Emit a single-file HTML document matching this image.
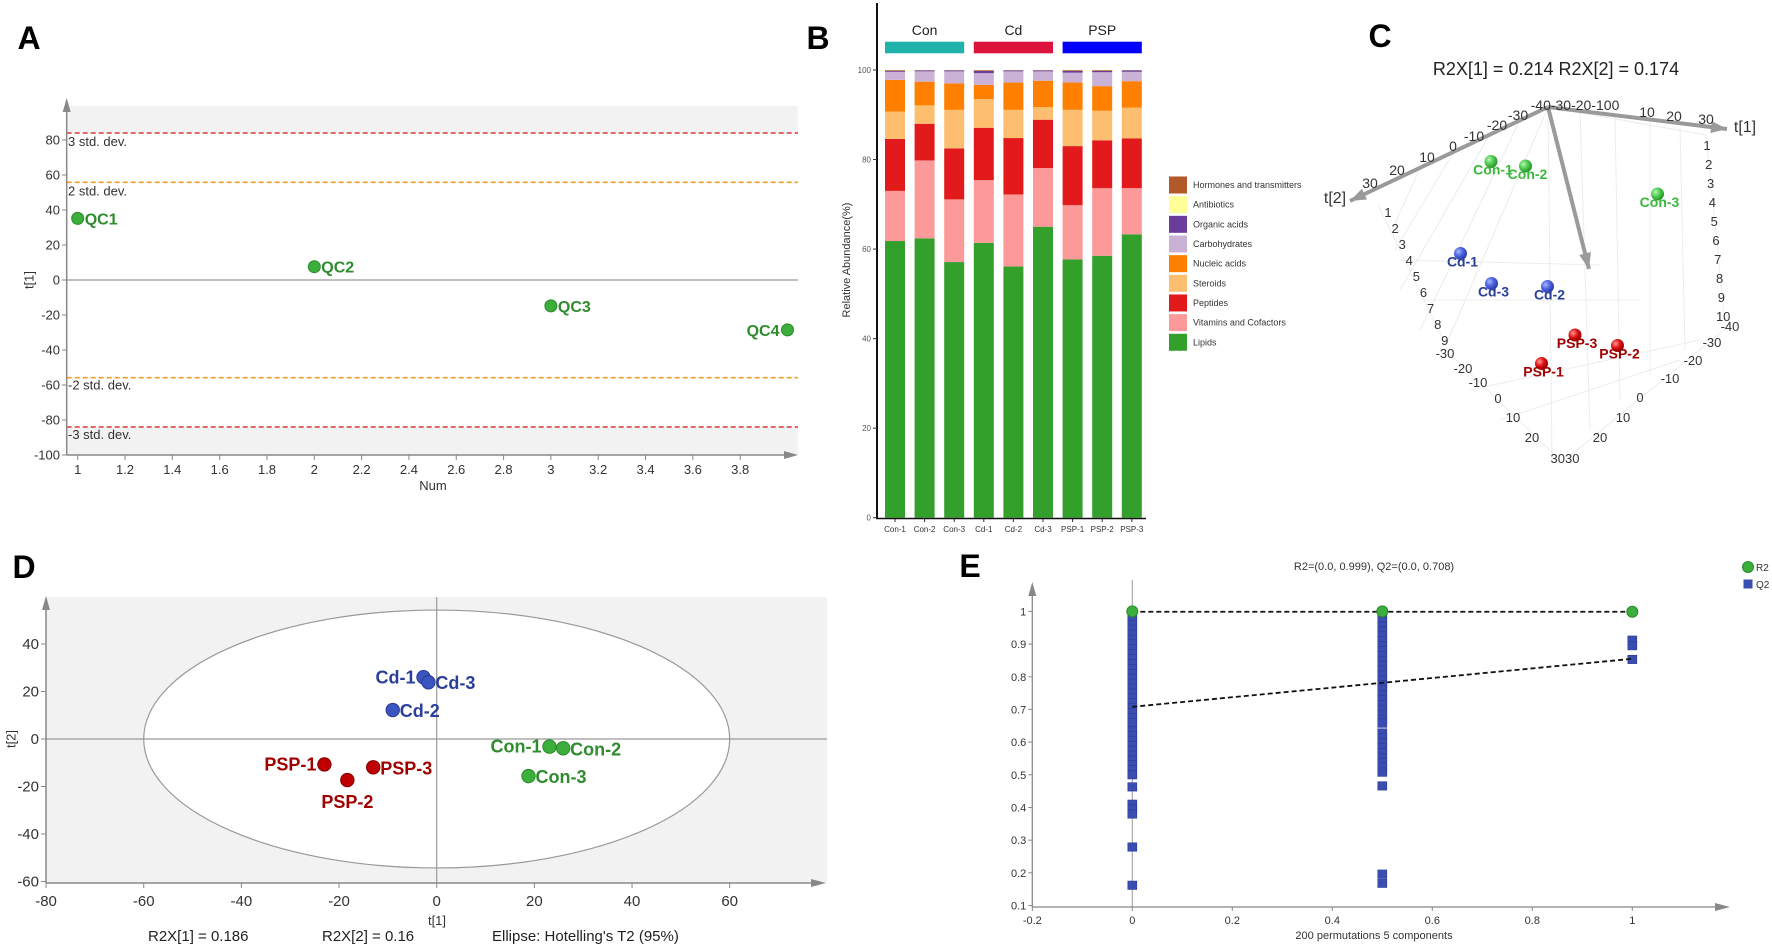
<!DOCTYPE html>
<html><head><meta charset="utf-8"><style>
html,body{margin:0;padding:0;background:#fff;}
svg{display:block;font-family:"Liberation Sans",Arial,sans-serif;}
</style></head><body>
<svg id="fig" width="1772" height="948" viewBox="0 0 1772 948" xmlns="http://www.w3.org/2000/svg">
<defs>
<radialGradient id="gGreen" cx="0.35" cy="0.35" r="0.7"><stop offset="0" stop-color="#b8f5b8"/><stop offset="0.5" stop-color="#4ccc4c"/><stop offset="1" stop-color="#2a8a2a"/></radialGradient>
<radialGradient id="gBlue" cx="0.35" cy="0.35" r="0.7"><stop offset="0" stop-color="#a8b8ff"/><stop offset="0.5" stop-color="#4a62e0"/><stop offset="1" stop-color="#2a3a9a"/></radialGradient>
<radialGradient id="gRed" cx="0.35" cy="0.35" r="0.7"><stop offset="0" stop-color="#ff9a9a"/><stop offset="0.5" stop-color="#e01010"/><stop offset="1" stop-color="#900000"/></radialGradient>
</defs>
<!-- panel letters -->
<text x="29" y="49" font-size="32" font-weight="bold" text-anchor="middle">A</text>
<text x="818" y="49" font-size="32" font-weight="bold" text-anchor="middle">B</text>
<text x="1380" y="47" font-size="32" font-weight="bold" text-anchor="middle">C</text>
<text x="24" y="578" font-size="32" font-weight="bold" text-anchor="middle">D</text>
<text x="970" y="577" font-size="32" font-weight="bold" text-anchor="middle">E</text>

<!-- Panel A static -->
<g id="panelA">
<rect x="66.7" y="106" width="731" height="349" fill="#f2f2f2"/>
<rect x="66.7" y="133.3" width="731" height="294" fill="#ffffff"/>
<text x="30" y="280" font-size="13" fill="#333" text-anchor="middle" transform="rotate(-90 30 280)" dominant-baseline="middle">t[1]</text>
<text x="433" y="490" font-size="13" fill="#333" text-anchor="middle">Num</text>
</g>
<!-- Panel B static -->
<g id="panelB">
<text x="850" y="260" font-size="11" fill="#333" text-anchor="middle" transform="rotate(-90 850 260)">Relative Abundance(%)</text>
</g>
<!-- Panel C static -->
<g id="panelC">
<text x="1556" y="75" font-size="18" fill="#222" text-anchor="middle">R2X[1] = 0.214 R2X[2] = 0.174</text>
</g>
<!-- Panel D static -->
<g id="panelD">
<rect x="46" y="597" width="781" height="286" fill="#f2f2f2"/>
<text x="12" y="739" font-size="13" fill="#333" text-anchor="middle" transform="rotate(-90 12 739)" dominant-baseline="middle">t[2]</text>
<text x="437" y="925" font-size="13" fill="#333" text-anchor="middle">t[1]</text>
<text x="148" y="941" font-size="15" fill="#222">R2X[1] = 0.186</text>
<text x="322" y="941" font-size="15" fill="#222">R2X[2] = 0.16</text>
<text x="492" y="941" font-size="15" fill="#222">Ellipse: Hotelling's T2 (95%)</text>
</g>
<!-- Panel E static -->
<g id="panelE">
<text x="1374" y="570" font-size="11" fill="#333" text-anchor="middle">R2=(0.0, 0.999), Q2=(0.0, 0.708)</text>
<text x="1374" y="939" font-size="11" fill="#333" text-anchor="middle">200 permutations 5 components</text>
<circle cx="1748" cy="567" r="5.5" fill="#3cae3c" stroke="#2a8a2a"/>
<text x="1756" y="571" font-size="10" fill="#333">R2</text>
<rect x="1743.5" y="579.5" width="9" height="9" fill="#3a4db0"/>
<text x="1756" y="588" font-size="10" fill="#333">Q2</text>
</g>
</svg>
<script>
// ---------- Panel A data ----------
const aNum = [1, 2, 3, 4];
const aT1 = [35.2, 7.6, -14.8, -28.5];
const aLabels = ['QC1', 'QC2', 'QC3', 'QC4'];
const aStdVals = [84, 55.8, -55.8, -84];
const aStdNames = ['3 std. dev.', '2 std. dev.', '-2 std. dev.', '-3 std. dev.'];
const aYTicks = [80, 60, 40, 20, 0, -20, -40, -60, -80, -100];
const aXTicks = [1, 1.2, 1.4, 1.6, 1.8, 2, 2.2, 2.4, 2.6, 2.8, 3, 3.2, 3.4, 3.6, 3.8];
// ---------- Panel B data ----------
const bSamples = ['Con-1','Con-2','Con-3','Cd-1','Cd-2','Cd-3','PSP-1','PSP-2','PSP-3'];
const bLipids   = [61.8, 62.4, 57.1, 61.4, 56.1, 65.0, 57.7, 58.5, 63.3];
const bVitamins = [11.2, 17.4, 14.0, 14.0, 16.1, 13.1, 12.1, 15.1, 10.3];
const bPeptides = [11.6, 8.2, 11.4, 11.7, 12.6, 10.8, 13.2, 10.7, 11.1];
const bSteroids = [6.1, 4.1, 8.6, 6.4, 6.3, 2.8, 8.1, 6.6, 6.9];
const bNucleic  = [7.1, 5.3, 5.9, 3.2, 6.1, 5.9, 6.1, 5.5, 5.9];
const bCarbs    = [1.8, 2.3, 2.7, 2.6, 2.5, 2.1, 2.2, 3.1, 2.1];
const bOrganic  = [0.2, 0.2, 0.2, 0.5, 0.2, 0.2, 0.4, 0.3, 0.3];
const bAntibio  = [0.05, 0.05, 0.05, 0.05, 0.05, 0.05, 0.05, 0.05, 0.05];
const bHormones = [0.15, 0.05, 0.05, 0.15, 0.05, 0.05, 0.15, 0.15, 0.05];
const bClassNames = ['Lipids','Vitamins and Cofactors','Peptides','Steroids','Nucleic acids','Carbohydrates','Organic acids','Antibiotics','Hormones and transmitters'];
const bYTicks = [0, 20, 40, 60, 80, 100];
const bGroups = ['Con', 'Cd', 'PSP'];
// ---------- Panel C data (projected score coordinates) ----------
const cLabels = ['Con-1','Con-2','Con-3','Cd-1','Cd-3','Cd-2','PSP-3','PSP-2','PSP-1'];
const cX = [-11.4, -4.5, 21.9, -17.5, -11.3, -0.1, 5.4, 13.9, -1.3];
const cY = [19.7, 18.8, 13.2, 1.3, -4.7, -5.3, -15.0, -17.1, -20.7];
// ---------- Panel D data ----------
const dLabels = ['Cd-1','Cd-3','Cd-2','PSP-1','PSP-2','PSP-3','Con-1','Con-2','Con-3'];
const dT1 = [-2.7, -1.7, -9.0, -23.0, -18.3, -13.0, 23.1, 25.9, 18.8];
const dT2 = [26.0, 23.9, 12.2, -10.7, -17.3, -11.9, -3.2, -3.9, -15.6];
const dXTicks = [-80, -60, -40, -20, 0, 20, 40, 60];
const dYTicks = [40, 20, 0, -20, -40, -60];
const dEllipse = [60, 54.3];
// ---------- Panel E data ----------
const eQ2At0 = [0.99,0.975,0.96,0.945,0.93,0.915,0.9,0.885,0.87,0.855,0.84,0.825,0.81,0.795,0.78,0.765,0.75,0.735,0.72,0.705,0.69,0.675,0.66,0.635,0.62,0.605,0.59,0.575,0.56,0.545,0.53,0.515,0.5,0.463,0.41,0.395,0.38,0.279,0.162];
const eQ2At05 = [0.985,0.97,0.955,0.94,0.925,0.91,0.895,0.88,0.865,0.85,0.835,0.82,0.805,0.79,0.775,0.76,0.745,0.73,0.715,0.7,0.685,0.67,0.658,0.628,0.613,0.598,0.583,0.568,0.553,0.538,0.523,0.508,0.466,0.196,0.168];
const eQ2At1 = [0.912, 0.895, 0.853];
const eR2X = [0, 0.5, 1];
const eR2Y = [1.0, 1.0, 0.999];
const eR2Line = [0.999, 0.999];
const eQ2Line = [0.708, 0.855];
const eXTicks = [-0.2, 0, 0.2, 0.4, 0.6, 0.8, 1];
const eYTicks = [1, 0.9, 0.8, 0.7, 0.6, 0.5, 0.4, 0.3, 0.2, 0.1];

const NS = 'http://www.w3.org/2000/svg';
const svg = document.getElementById('fig');
function mk(tag, attrs, parent) {
  const e = document.createElementNS(NS, tag);
  for (const k in attrs) e.setAttribute(k, attrs[k]);
  (parent || svg).appendChild(e);
  return e;
}
function fmt(v) { return (Math.round(v * 10) / 10).toString(); }

// ================= PANEL A =================
const gA = document.getElementById('panelA');
const ax = v => 77.7 + (v - 1) * 236.6;
const ay = v => 280 - v * 1.75;
let e;
e = mk('line', {x1: 66.7, y1: ay(0), x2: 798, y2: ay(0), stroke: '#999', 'stroke-width': 1.2}, gA);


aStdVals.forEach((v, i) => {
  const l = mk('line', {x1: 66.7, y1: ay(v), x2: 798, y2: ay(v), stroke: Math.abs(v) > 70 ? '#e8323c' : '#f0a020', 'stroke-width': 1.6, 'stroke-dasharray': '5,3'}, gA);
  
  
  const t = mk('text', {x: 68, y: ay(v) + (v > 0 ? 13 : 12), 'font-size': 13, fill: '#333'}, gA);
  t.textContent = aStdNames[i];
  
  
});
e = mk('line', {x1: 66.7, y1: 455, x2: 66.7, y2: 104, stroke: '#888', 'stroke-width': 1.5}, gA);


e = mk('path', {d: 'M62.7,112 L66.7,98 L70.7,112 Z', fill: '#888'}, gA);


e = mk('line', {x1: 66.7, y1: 455, x2: 790, y2: 455, stroke: '#888', 'stroke-width': 1.5}, gA);


e = mk('path', {d: 'M784,451 L798,455 L784,459 Z', fill: '#888'}, gA);


aYTicks.forEach(v => {
  const tk = mk('line', {x1: 62, y1: ay(v), x2: 66.7, y2: ay(v), stroke: '#888'}, gA);
  
  
  const t = mk('text', {x: 60, y: ay(v) + 4.5, 'font-size': 13, fill: '#333', 'text-anchor': 'end'}, gA);
  t.textContent = v;
  
  
});
aXTicks.forEach(v => {
  const tk = mk('line', {x1: ax(v), y1: 455, x2: ax(v), y2: 460, stroke: '#888'}, gA);
  
  
  const t = mk('text', {x: ax(v), y: 474, 'font-size': 13, fill: '#333', 'text-anchor': 'middle'}, gA);
  t.textContent = fmt(v);
  
  
});
aNum.forEach((n, i) => {
  const c = mk('circle', {cx: ax(n), cy: ay(aT1[i]), r: 6, fill: '#3cae3c', stroke: '#2a8a2a', 'stroke-width': 1}, gA);
  
  
  const left = i === aNum.length - 1;
  const t = mk('text', {x: left ? ax(n) - 8 : ax(n) + 7, y: ay(aT1[i]) + 6, 'font-size': 16, 'font-weight': 'bold', fill: '#2e8b2e', 'text-anchor': left ? 'end' : 'start'}, gA);
  t.textContent = aLabels[i];
  
  
});

// ================= PANEL B =================
const gB = document.getElementById('panelB');
const bx = i => 885 + i * 29.6;
const by = v => 517.7 - v * 4.477;
const bSeries = [bLipids, bVitamins, bPeptides, bSteroids, bNucleic, bCarbs, bOrganic, bAntibio, bHormones];
const bColors = ['#33a02c', '#fb9a99', '#e31a1c', '#fdbf6f', '#ff7f00', '#cab2d6', '#6a3d9a', '#ffff99', '#b15928'];
bSamples.forEach((s, i) => {
  let cum = 0;
  bSeries.forEach((arr, k) => {
    const v = arr[i];
    const r = mk('rect', {x: bx(i), y: by(cum + v), width: 20, height: by(cum) - by(cum + v), fill: bColors[k]}, gB);
    
    
    cum += v;
  });
  const t = mk('text', {x: bx(i) + 10, y: 532, 'font-size': 8, fill: '#333', 'text-anchor': 'middle'}, gB);
  t.textContent = s;
  
  
  const tk = mk('line', {x1: bx(i) + 10, y1: 518, x2: bx(i) + 10, y2: 522, stroke: '#333'}, gB);
  
  
});
e = mk('line', {x1: 877, y1: 3, x2: 877, y2: 519, stroke: '#111', 'stroke-width': 2}, gB);


e = mk('line', {x1: 876, y1: 518.5, x2: 1146, y2: 518.5, stroke: '#111', 'stroke-width': 1.5}, gB);


bYTicks.forEach(v => {
  const tk = mk('line', {x1: 873, y1: by(v), x2: 877, y2: by(v), stroke: '#333'}, gB);
  
  
  const t = mk('text', {x: 871, y: by(v) + 3, 'font-size': 8, fill: '#555', 'text-anchor': 'end'}, gB);
  t.textContent = v;
  
  
});
const bGroupColors = ['#20b2aa', '#dc143c', '#0000ff'];
bGroups.forEach((g, j) => {
  const x0 = bx(j * 3), x1 = bx(j * 3 + 2) + 20;
  const r = mk('rect', {x: x0, y: 41.7, width: x1 - x0, height: 11.6, fill: bGroupColors[j]}, gB);
  
  
  const t = mk('text', {x: (x0 + x1) / 2, y: 35, 'font-size': 14, fill: '#222', 'text-anchor': 'middle'}, gB);
  t.textContent = g;
  
  
});
// legend (top to bottom reversed stack order)
for (let k = bClassNames.length - 1, row = 0; k >= 0; k--, row++) {
  const yy = 176.5 + row * 19.66;
  const r = mk('rect', {x: 1169, y: yy, width: 18, height: 17, fill: bColors[k]}, gB);
  
  
  const t = mk('text', {x: 1193, y: yy + 11.5, 'font-size': 9, fill: '#333'}, gB);
  t.textContent = bClassNames[k];
  
  
}

// ================= PANEL C =================
const gC = document.getElementById('panelC');
const cx = v => 1548 + v * 5;
const cy = v => 260 - v * 5;
// faint grid
const gridLines = [
  [1548,107,1446,345],[1548,107,1706,135],[1706,135,1725,322],[1548,107,1552,460],
  [1446,350,1560,460],[1730,325,1565,460],[1378,205,1446,345],
  [1520,120,1420,330],[1490,134,1400,290],[1455,150,1395,250],[1420,168,1392,230],
  [1580,110,1590,430],[1615,116,1620,400],[1650,122,1650,375],[1680,128,1685,350],
  [1400,260,1600,265],[1420,300,1640,300],[1470,390,1700,340],[1500,420,1680,360]
];
gridLines.forEach(s => {
  const l = mk('line', {x1: s[0], y1: s[1], x2: s[2], y2: s[3], stroke: '#ececec', 'stroke-width': 1}, gC);
  
  
});
const cArrows = [[1548,107,1727,129],[1548,107,1350,201],[1548,107,1589,269]];
cArrows.forEach(a => {
  const l = mk('line', {x1: a[0], y1: a[1], x2: a[2], y2: a[3], stroke: '#9a9a9a', 'stroke-width': 4}, gC);
  
  
  const ang = Math.atan2(a[3] - a[1], a[2] - a[0]);
  const L = 16, W = 6;
  const bxp = a[2] - L * Math.cos(ang), byp = a[3] - L * Math.sin(ang);
  const p = mk('path', {d: `M${a[2]},${a[3]} L${bxp - W * Math.sin(ang)},${byp + W * Math.cos(ang)} L${bxp + W * Math.sin(ang)},${byp - W * Math.cos(ang)} Z`, fill: '#9a9a9a'}, gC);
  
  
});
const cAxisTexts = [
  ['t[1]',1745,132,16],['t[2]',1335,203,16],
  ['-40-30-20-100',1575,110,14],['10',1647,117,14],['20',1674,121,14],['30',1706,124,14],
  ['30',1370,188,14],['20',1397,175,14],['10',1427,162,14],['0',1453,151,14],['-10',1474,141,14],['-20',1497,130,14],['-30',1518,120,14],
  ['-30',1445,358,13],['-20',1463,373,13],['-10',1478,387,13],['0',1498,403,13],['10',1513,422,13],['20',1532,442,13],['3030',1565,463,13],
  ['20',1600,442,13],['10',1623,422,13],['0',1640,402,13],['-10',1670,383,13],['-20',1693,365,13],['-30',1712,347,13],['-40',1730,331,13]
];
cAxisTexts.forEach(a => {
  const t = mk('text', {x: a[1], y: a[2], 'font-size': a[3], fill: '#333', 'text-anchor': 'middle'}, gC);
  t.textContent = a[0];
  
  
});
for (let n = 1; n <= 9; n++) {
  const t = mk('text', {x: 1388 + (n - 1) * 7.1, y: 217 + (n - 1) * 16, 'font-size': 13, fill: '#333', 'text-anchor': 'middle'}, gC);
  t.textContent = n;
  
  
}
for (let n = 1; n <= 10; n++) {
  const t = mk('text', {x: 1707 + (n - 1) * 1.8, y: 150 + (n - 1) * 19, 'font-size': 13, fill: '#333', 'text-anchor': 'middle'}, gC);
  t.textContent = n;
  
  
}
cLabels.forEach((lab, i) => {
  const grp = lab.split('-')[0];
  const fill = grp === 'Con' ? 'url(#gGreen)' : grp === 'Cd' ? 'url(#gBlue)' : 'url(#gRed)';
  const tc = grp === 'Con' ? '#3cb83c' : grp === 'Cd' ? '#2a3f9a' : '#a00000';
  const c = mk('circle', {cx: cx(cX[i]), cy: cy(cY[i]), r: 6.5, fill: fill}, gC);
  
  
  const t = mk('text', {x: cx(cX[i]) + 2, y: cy(cY[i]) + 13, 'font-size': 14, 'font-weight': 'bold', fill: tc, 'text-anchor': 'middle'}, gC);
  t.textContent = lab;
  
  
});

// ================= PANEL D =================
const gD = document.getElementById('panelD');
const dx = v => 436.7 + v * 4.883;
const dy = v => 739 - v * 2.375;
e = mk('ellipse', {cx: dx(0), cy: dy(0), rx: dx(dEllipse[0]) - dx(0), ry: dy(0) - dy(dEllipse[1]), fill: '#fff', stroke: '#999', 'stroke-width': 1.2}, gD);


e = mk('line', {x1: 46, y1: dy(0), x2: 827, y2: dy(0), stroke: '#999', 'stroke-width': 1.2}, gD);


e = mk('line', {x1: dx(0), y1: 597, x2: dx(0), y2: 883, stroke: '#999', 'stroke-width': 1.2}, gD);


e = mk('line', {x1: 46, y1: 883, x2: 46, y2: 602, stroke: '#888', 'stroke-width': 1.5}, gD);


e = mk('path', {d: 'M42,610 L46,596 L50,610 Z', fill: '#888'}, gD);


e = mk('line', {x1: 46, y1: 883, x2: 815, y2: 883, stroke: '#888', 'stroke-width': 1.5}, gD);


e = mk('path', {d: 'M811,879 L826,883 L811,887 Z', fill: '#888'}, gD);


dXTicks.forEach(v => {
  const tk = mk('line', {x1: dx(v), y1: 883, x2: dx(v), y2: 888, stroke: '#888'}, gD);
  
  
  const t = mk('text', {x: dx(v), y: 906, 'font-size': 15, fill: '#333', 'text-anchor': 'middle'}, gD);
  t.textContent = v;
  
  
});
dYTicks.forEach(v => {
  const tk = mk('line', {x1: 41, y1: dy(v), x2: 46, y2: dy(v), stroke: '#888'}, gD);
  
  
  const t = mk('text', {x: 39, y: dy(v) + 5, 'font-size': 15, fill: '#333', 'text-anchor': 'end'}, gD);
  t.textContent = v;
  
  
});
const dLabelSide = ['left','right','right','left','below','right','left','right','right'];
dLabels.forEach((lab, i) => {
  const grp = lab.split('-')[0];
  const fc = grp === 'Con' ? '#3cae3c' : grp === 'Cd' ? '#3a55c0' : '#c00000';
  const sc = grp === 'Con' ? '#2a8a2a' : grp === 'Cd' ? '#2a3a90' : '#800000';
  const tc = grp === 'Con' ? '#2e8b2e' : grp === 'Cd' ? '#2a3f9a' : '#a00000';
  const px = dx(dT1[i]), py = dy(dT2[i]);
  const c = mk('circle', {cx: px, cy: py, r: 6.7, fill: fc, stroke: sc, 'stroke-width': 1}, gD);
  
  
  const side = dLabelSide[i];
  const attrs = {'font-size': 18, 'font-weight': 'bold', fill: tc};
  if (side === 'left') { attrs.x = px - 8; attrs.y = py + 6; attrs['text-anchor'] = 'end'; }
  else if (side === 'right') { attrs.x = px + 7; attrs.y = py + 7; attrs['text-anchor'] = 'start'; }
  else { attrs.x = px; attrs.y = py + 28; attrs['text-anchor'] = 'middle'; }
  const t = mk('text', attrs, gD);
  t.textContent = lab;
  
  
});

// ================= PANEL E =================
const gE = document.getElementById('panelE');
const ex = v => 1132.3 + v * 500;
const ey = v => 938.2 - v * 326.8;
e = mk('line', {x1: ex(0), y1: 580, x2: ex(0), y2: 907, stroke: '#aaa', 'stroke-width': 1.2}, gE);


e = mk('line', {x1: ex(-0.2), y1: 907, x2: ex(-0.2), y2: 588, stroke: '#888', 'stroke-width': 1.3}, gE);


e = mk('path', {d: `M${ex(-0.2) - 4},596 L${ex(-0.2)},582 L${ex(-0.2) + 4},596 Z`, fill: '#888'}, gE);


e = mk('line', {x1: ex(-0.2), y1: 907, x2: 1718, y2: 907, stroke: '#888', 'stroke-width': 1.3}, gE);


e = mk('path', {d: 'M1715,903 L1730,907 L1715,911 Z', fill: '#888'}, gE);


eXTicks.forEach(v => {
  const tk = mk('line', {x1: ex(v), y1: 907, x2: ex(v), y2: 911, stroke: '#888'}, gE);
  
  
  const t = mk('text', {x: ex(v), y: 924, 'font-size': 11, fill: '#333', 'text-anchor': 'middle'}, gE);
  t.textContent = fmt(v);
  
  
});
eYTicks.forEach(v => {
  const tk = mk('line', {x1: ex(-0.2) - 4, y1: ey(v), x2: ex(-0.2), y2: ey(v), stroke: '#888'}, gE);
  
  
  const t = mk('text', {x: ex(-0.2) - 6, y: ey(v) + 4, 'font-size': 11, fill: '#333', 'text-anchor': 'end'}, gE);
  t.textContent = fmt(v);
  
  
});
function q2Column(xv, arr) {
  arr.forEach(v => {
    const r = mk('rect', {x: ex(xv) - 4.5, y: ey(v) - 4.2, width: 9, height: 8.4, fill: '#3a4db0', stroke: '#2c3c95', 'stroke-width': 0.6}, gE);
    
    
  });
}
q2Column(0, eQ2At0);
q2Column(0.5, eQ2At05);
q2Column(1, eQ2At1);
e = mk('line', {x1: ex(0), y1: ey(eR2Line[0]), x2: ex(1), y2: ey(eR2Line[1]), stroke: '#111', 'stroke-width': 1.8, 'stroke-dasharray': '5,3'}, gE);


e = mk('line', {x1: ex(0), y1: ey(eQ2Line[0]), x2: ex(1), y2: ey(eQ2Line[1]), stroke: '#111', 'stroke-width': 1.8, 'stroke-dasharray': '5,3'}, gE);


eR2X.forEach((xv, i) => {
  const c = mk('circle', {cx: ex(xv), cy: ey(eR2Y[i]), r: 5.5, fill: '#3cae3c', stroke: '#2a8a2a', 'stroke-width': 1}, gE);
  
  
});
</script>
</body></html>
